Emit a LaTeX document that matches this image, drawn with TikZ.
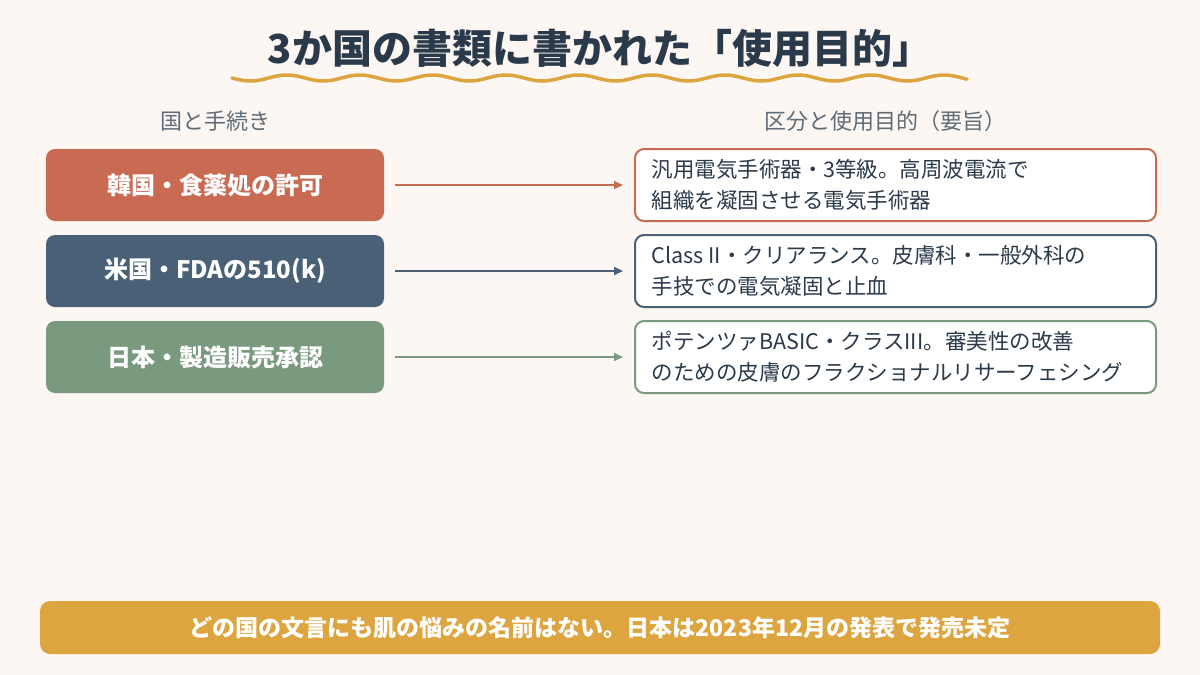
\documentclass[tikz,border=0pt]{standalone}
\usepackage{fontspec}
\setmainfont{Noto Sans CJK JP}
\usetikzlibrary{arrows.meta}
\definecolor{bg}{HTML}{FCF7F3}
\definecolor{ink}{HTML}{2B3A4A}
\definecolor{gold}{HTML}{DDA540}
\definecolor{cr}{HTML}{C96A52}
\definecolor{cb}{HTML}{4A6076}
\definecolor{cg}{HTML}{7A9A80}
\definecolor{hd}{HTML}{5F6B76}
\begin{document}
\begin{tikzpicture}[x=1pt,y=-1pt,
 lbox/.style={rounded corners=9pt,minimum width=338pt,minimum height=72pt,text=white,font=\fontsize{24}{28}\selectfont\bfseries,inner sep=0pt},
 rbox/.style={rounded corners=9pt,fill=white,line width=2pt,minimum width=521pt,minimum height=72pt,inner sep=0pt,text=ink},
 rtxt/.style={anchor=west,align=left,font=\fontsize{21.5}{31}\selectfont,text=ink},
 arr/.style={line width=1.6pt,-{Triangle[length=9pt,width=8pt]}}]
\fill[bg] (0,0) rectangle (1200,675);
\useasboundingbox (0,0) rectangle (1200,675);
\node[font=\fontsize{40}{44}\selectfont\bfseries,text=ink] (title) at (600,48) {3か国の書類に書かれた「使用目的」};
\draw[gold,line width=3.5pt,line cap=round] plot[domain=0:735,samples=150,smooth] ({232+\x},{78+3*sin(4.93*\x)});
\node[font=\fontsize{22}{26}\selectfont,text=hd] (h1) at (215,121) {国と手続き};
\node[font=\fontsize{22}{26}\selectfont,text=hd] (h2) at (885,121) {区分と使用目的（要旨）};
\foreach \i/\y/\c/\t/\a/\b in {
 1/185/cr/韓国・食薬処の許可/汎用電気手術器・3等級。高周波電流で/組織を凝固させる電気手術器,
 2/271/cb/米国・FDAの510(k)/Class II・クリアランス。皮膚科・一般外科の/手技での電気凝固と止血,
 3/357/cg/日本・製造販売承認/ポテンツァBASIC・クラスIII。審美性の改善/のための皮膚のフラクショナルリサーフェシング}{
 \node[lbox,fill=\c] (L\i) at (215,\y) {\t};
 \node[rbox,draw=\c] (R\i) at (895.5,\y) {};
 \node[rtxt] (T\i) at (648,\y) {\a\\\b};
 \draw[arr,draw=\c,fill=\c] ([xshift=11pt]L\i.east) -- ([xshift=-11pt]R\i.west);
}
\node[rounded corners=10pt,fill=gold,minimum width=1120pt,minimum height=53pt,text=white,font=\fontsize{23}{27}\selectfont\bfseries] (bar) at (600,627.5) {どの国の文言にも肌の悩みの名前はない。日本は2023年12月の発表で発売未定};
\end{tikzpicture}
\end{document}
